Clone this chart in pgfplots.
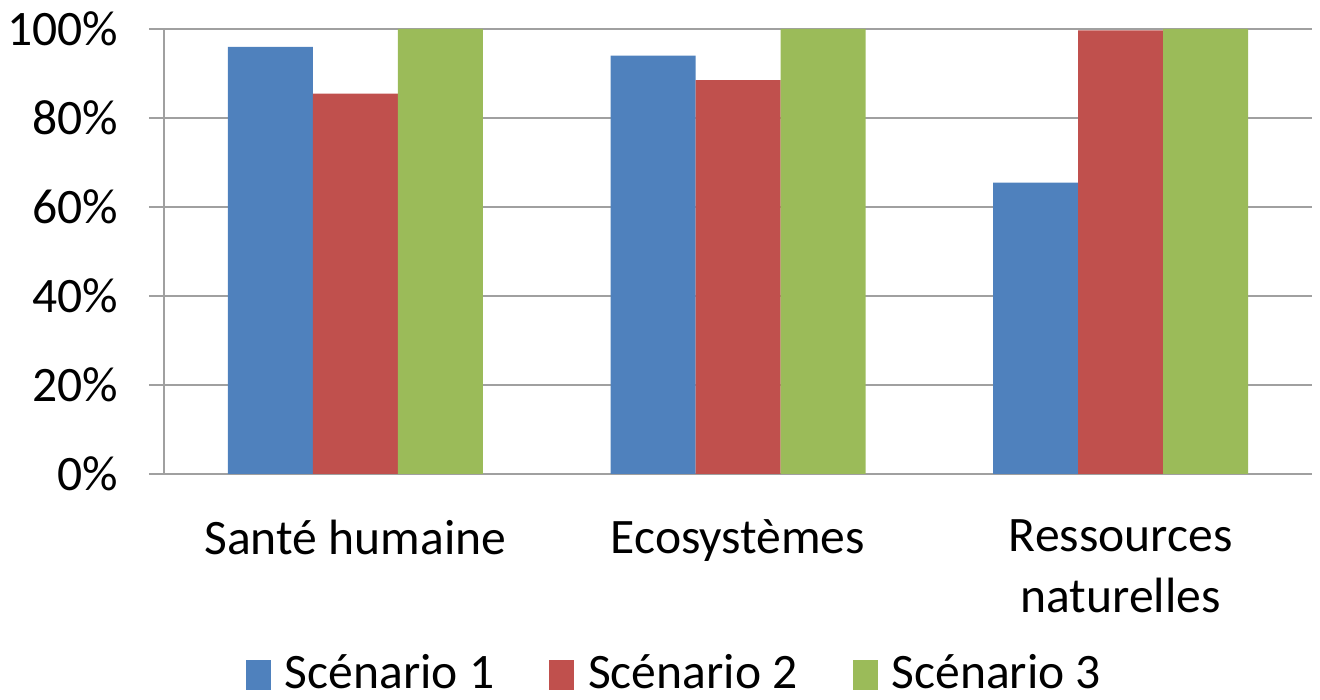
\documentclass[border=0pt]{standalone}
\usepackage{pgfplots}
\pgfplotsset{compat=1.18}
\usepackage{fontspec}
\setmainfont{Carlito}
\definecolor{sA}{HTML}{4F81BD}
\definecolor{sB}{HTML}{C0504D}
\definecolor{sC}{HTML}{9BBB59}
\definecolor{gridc}{HTML}{A0A0A0}

\begin{document}
\fontsize{24.8}{29}\selectfont
\begin{tikzpicture}
\path[use as bounding box] (0,0) rectangle (660pt,350pt);
\begin{axis}[
    at={(82pt,113pt)}, anchor=south west,
    scale only axis,
    width=574pt, height=222.5pt,
    ybar=0pt, bar width=42.5pt,
    xmin=-0.5, xmax=2.5,
    ymin=0, ymax=100,
    axis lines*=left,
    axis line style={gridc, line width=0.8pt},
    xtick={0,1,2},
    xticklabels={Santé humaine, Ecosystèmes, {Ressources\\naturelles}},
    xticklabel style={align=center, yshift=-7pt, font=\fontsize{24.8}{30.5}\selectfont},
    major x tick style={draw=none},
    extra x ticks={-0.5,0.5,1.5,2.5},
    extra x tick labels={},
    extra x tick style={grid=none, major tick style={draw=gridc, line width=0.8pt}},
    ytick={0,20,40,60,80,100},
    yticklabel={\pgfmathprintnumber{\tick}\%},
    yticklabel style={xshift=-7pt},
    /pgf/number format/assume math mode=true,
    tick align=outside,
    major tick length=7.5pt,
    ytick style={draw=gridc, line width=0.8pt},
    ymajorgrids,
    grid style={gridc, line width=0.8pt},
    legend style={at={(0.4455,-0.4517)}, anchor=center, draw=none,
        legend columns=3, font=\fontsize{24.8}{29}\selectfont,
        /tikz/every odd column/.append style={column sep=5pt},
        /tikz/every even column/.append style={column sep=25.5pt}},
    legend image code/.code={\fill[#1] (0pt,-7.5pt) rectangle (12.5pt,7.5pt);},
]
\addplot[fill=sA, draw=none] coordinates {(0,96) (1,94) (2,65.5)};
\addlegendentry{Scénario 1}
\addplot[fill=sB, draw=none] coordinates {(0,85.5) (1,88.5) (2,99.7)};
\addlegendentry{Scénario 2}
\addplot[fill=sC, draw=none] coordinates {(0,100) (1,100) (2,100)};
\addlegendentry{Scénario 3}
\end{axis}
\end{tikzpicture}
\end{document}
